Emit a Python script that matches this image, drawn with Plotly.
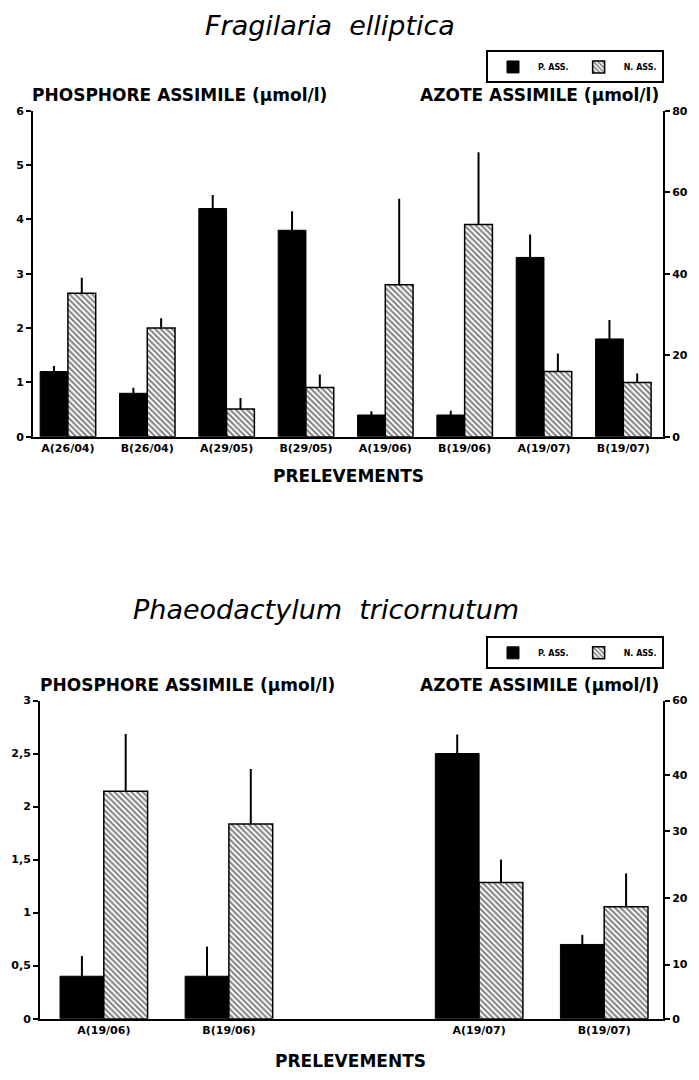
import plotly.graph_objects as go

# ---------------- data ----------------
top_labels = ["A(26/04)", "B(26/04)", "A(29/05)", "B(29/05)",
              "A(19/06)", "B(19/06)", "A(19/07)", "B(19/07)"]
top_p = [1.2, 0.8, 4.2, 3.8, 0.4, 0.4, 3.3, 1.8]
top_p_err = [0.10, 0.10, 0.25, 0.35, 0.07, 0.08, 0.42, 0.35]
top_n = [35.2, 26.7, 6.8, 12.1, 37.3, 52.1, 16.0, 13.3]
top_n_err = [3.8, 2.4, 2.7, 3.2, 21.1, 17.7, 4.4, 2.2]

bot_labels = ["A(19/06)", "B(19/06)", " ", "A(19/07)", "B(19/07)"]
bot_p = [0.40, 0.40, None, 2.50, 0.70]
bot_p_err = [0.19, 0.28, None, 0.18, 0.09]
bot_n = [42.9, 36.7, None, 25.7, 21.1]
bot_n_err = [10.8, 10.4, None, 4.3, 6.3]

top_left_ticks = [0, 1, 2, 3, 4, 5, 6]
top_right_ticks = [0, 20, 40, 60, 80]
bot_left_ticks = [0, 0.5, 1, 1.5, 2, 2.5, 3]
bot_left_text = ["0", "0,5", "1", "1,5", "2", "2,5", "3"]
bot_right_tickvals = [0, 10.2, 22.7, 35.4, 46.0, 60]
bot_right_text = ["0", "10", "20", "30", "40", "60"]

FONT = "Liberation Sans"
WIDE = "DejaVu Sans"
W, H = 699, 1080

def px(x):
    return x / W

def py(y):
    return 1 - y / H

fig = go.Figure()

hatch = dict(shape="\\", fgcolor="black", bgcolor="white", size=4, solidity=0.5)
bw = 0.35

def add_pair(xs, p, perr, n, nerr, xa, ya, ya2, legend):
    fig.add_trace(go.Bar(
        x=xs, y=p, xaxis=xa, yaxis=ya, name="P. ASS.", legend=legend,
        offset=-bw, width=bw,
        marker=dict(color="black", line=dict(color="black", width=1)),
        error_y=dict(type="data", array=perr, symmetric=False,
                     arrayminus=[0] * len(perr), color="black",
                     thickness=2, width=0)))
    fig.add_trace(go.Bar(
        x=xs, y=n, xaxis=xa, yaxis=ya2, name="N. ASS.", legend=legend,
        offset=0, width=bw,
        marker=dict(color="white", pattern=hatch,
                    line=dict(color="black", width=1.5)),
        error_y=dict(type="data", array=nerr, symmetric=False,
                     arrayminus=[0] * len(nerr), color="black",
                     thickness=2, width=0)))

add_pair(top_labels, top_p, top_p_err, top_n, top_n_err, "x", "y", "y2", "legend")
add_pair(bot_labels, bot_p, bot_p_err, bot_n, bot_n_err, "x2", "y3", "y4", "legend2")

tickfont = dict(family=WIDE, size=11, color="black", weight="bold")
axis_common = dict(showline=True, linecolor="black", linewidth=2, ticks="outside",
                   tickcolor="black", tickwidth=2, ticklen=5, showgrid=False,
                   zeroline=False, tickfont=tickfont, fixedrange=True)
xaxis_common = {**axis_common, "ticks": ""}

legend_common = dict(orientation="h", xanchor="right", yanchor="top",
                     bordercolor="black", borderwidth=2, bgcolor="white",
                     font=dict(family=WIDE, size=8, weight="bold", color="black"),
                     itemwidth=40, tracegroupgap=0)

fig.update_layout(
    width=W, height=H,
    margin=dict(l=0, r=0, t=0, b=0),
    paper_bgcolor="white", plot_bgcolor="white",
    barmode="overlay",
    font=dict(family=FONT, color="black"),
    xaxis=dict(domain=[px(33), px(663)], anchor="y", type="category",
               range=[-0.44, 7.5], **xaxis_common),
    yaxis=dict(domain=[py(436), py(106)], anchor="x", range=[0, 6],
               tickvals=top_left_ticks, **axis_common),
    yaxis2=dict(overlaying="y", side="right", anchor="x", range=[0, 80],
                tickvals=top_right_ticks, **axis_common),
    xaxis2=dict(domain=[px(40), px(663)], anchor="y3", type="category",
                range=[-0.51, 4.47], **xaxis_common),
    yaxis3=dict(domain=[py(1025), py(703)], anchor="x2", range=[0, 3],
                tickvals=bot_left_ticks, ticktext=bot_left_text, **axis_common),
    yaxis4=dict(overlaying="y3", side="right", anchor="x2", range=[0, 60],
                tickvals=bot_right_tickvals, ticktext=bot_right_text, **axis_common),
    legend=dict(x=px(664), y=py(45), **legend_common),
    legend2=dict(x=px(664), y=py(638), **legend_common),
)

ann_bold = dict(family=WIDE, size=17, color="black", weight="bold")
anns = [
    dict(text="Fragilaria  elliptica", x=px(330), y=py(20), xanchor="center", yanchor="middle",
         font=dict(family=WIDE, size=27, style="italic", color="black")),
    dict(text="Phaeodactylum  tricornutum", x=px(326), y=py(611), xanchor="center", yanchor="middle",
         font=dict(family=WIDE, size=27, style="italic", color="black")),
    dict(text="PHOSPHORE ASSIMILE (µmol/l)", x=px(30), y=py(90), xanchor="left",
         yanchor="middle", font=ann_bold),
    dict(text="AZOTE ASSIMILE (µmol/l)", x=px(661), y=py(90), xanchor="right",
         yanchor="middle", font=ann_bold),
    dict(text="PHOSPHORE ASSIMILE (µmol/l)", x=px(38), y=py(687), xanchor="left",
         yanchor="middle", font=ann_bold),
    dict(text="AZOTE ASSIMILE (µmol/l)", x=px(661), y=py(687), xanchor="right",
         yanchor="middle", font=ann_bold),
    dict(text="PRELEVEMENTS", x=px(348), y=py(476), xanchor="center", yanchor="middle",
         font=dict(family=WIDE, size=17, color="black", weight="bold")),
    dict(text="PRELEVEMENTS", x=px(350), y=py(1068), xanchor="center", yanchor="middle",
         font=dict(family=WIDE, size=17, color="black", weight="bold")),
]
for a in anns:
    fig.add_annotation(xref="paper", yref="paper", showarrow=False, **a)

fig.write_html("out.html", config={"displayModeBar": False},
               post_script="document.body.style.margin='0';document.body.style.overflow='hidden';")
